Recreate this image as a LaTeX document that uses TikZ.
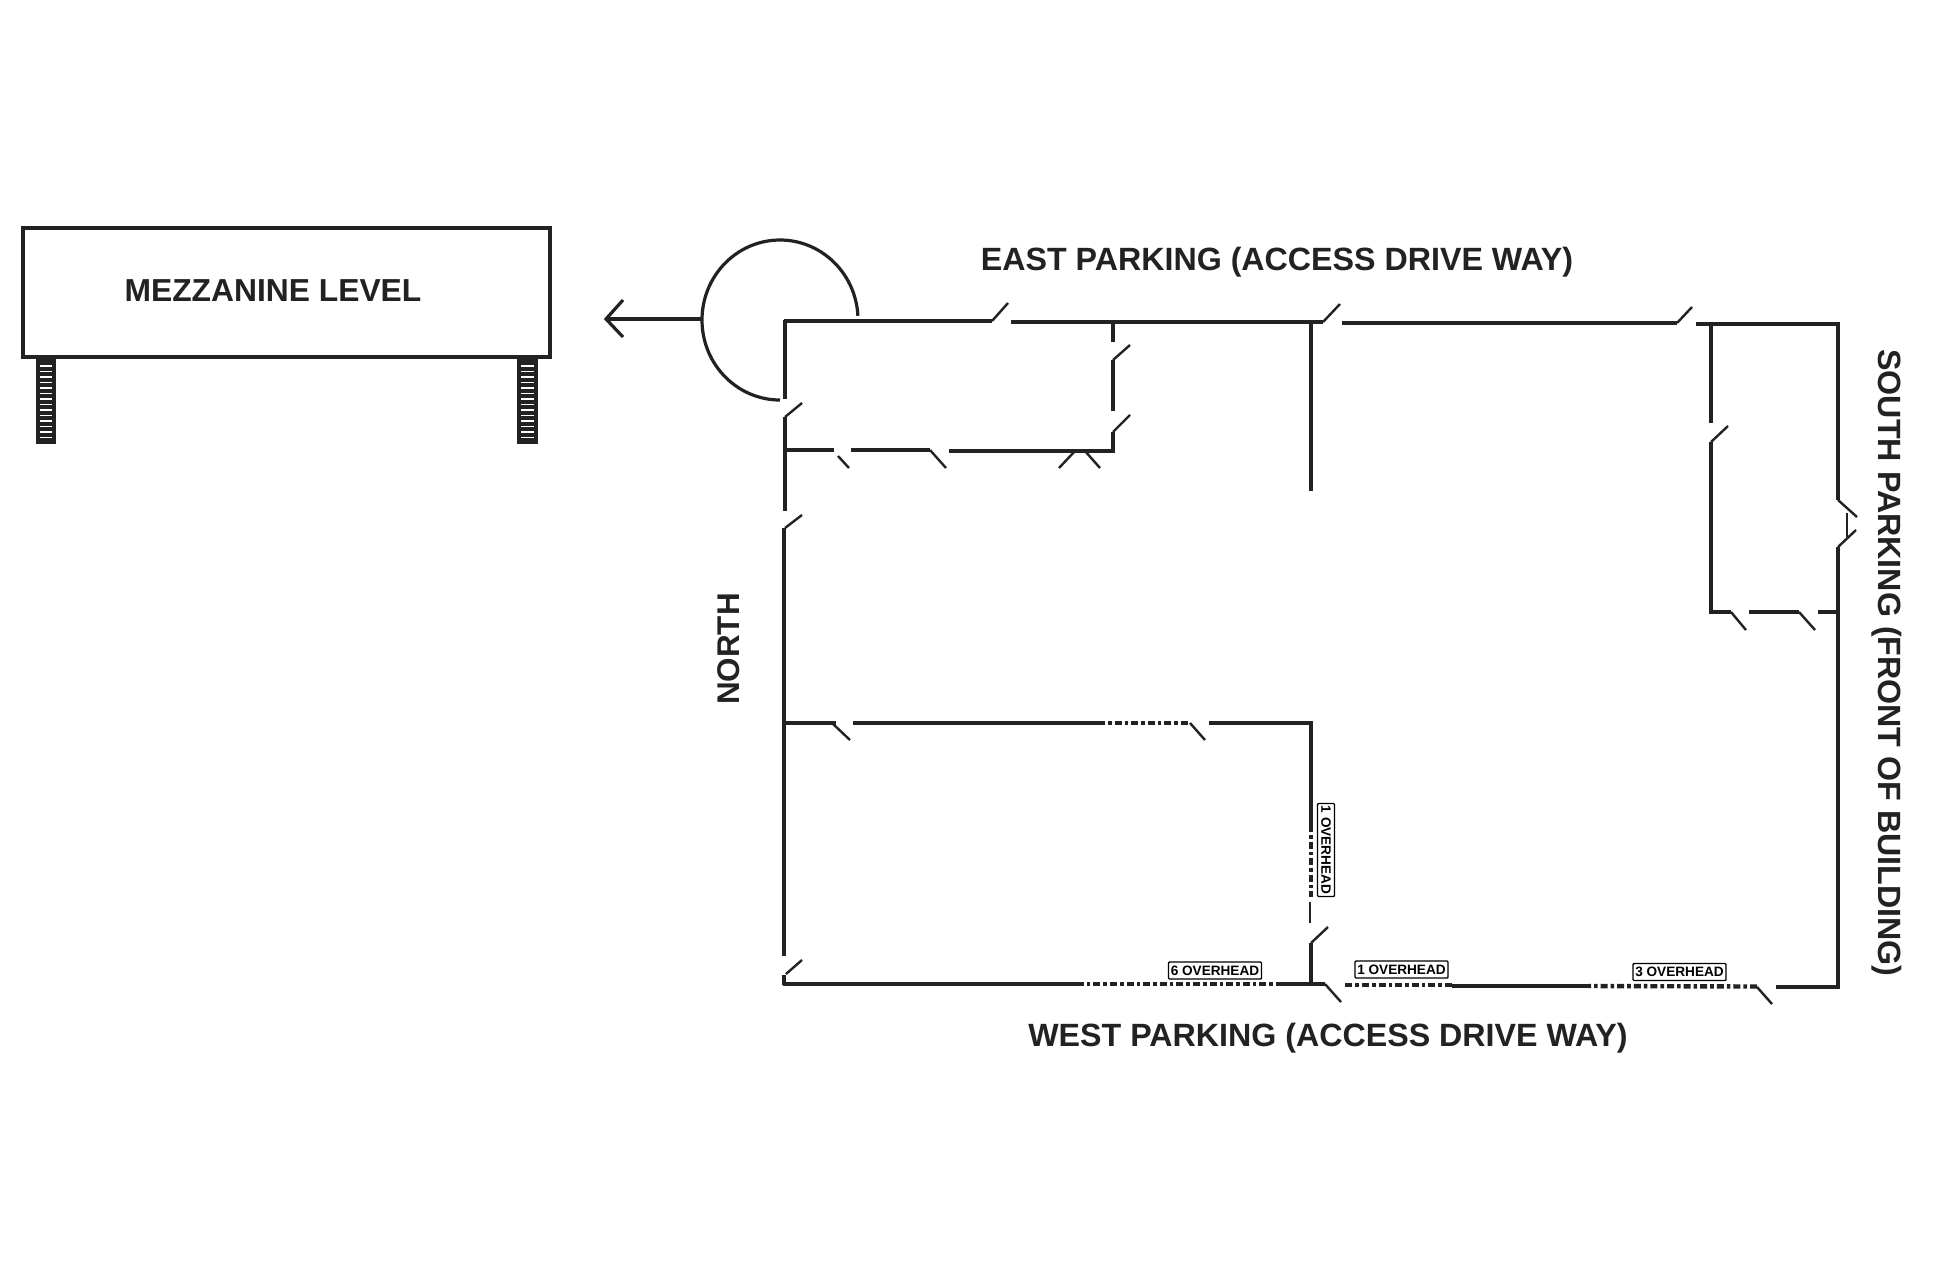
\documentclass[tikz,border=0pt]{standalone}
\usepackage{fontspec}
\setmainfont{Liberation Sans}
\definecolor{ink}{HTML}{222222}
\tikzset{
  wall/.style={draw=ink,line width=2.2pt,line cap=butt,line join=miter},
  dashwall/.style={draw=ink,line width=2.2pt,dash pattern=on 3.5pt off 1.5pt on 1.8pt off 1.5pt},
  leaf/.style={draw=ink,line width=1.2pt},
  thin wall/.style={draw=ink,line width=0.6pt},
  bigtext/.style={text=ink,font=\fontsize{16.1pt}{17pt}\selectfont\bfseries,inner sep=0pt,anchor=center},
  ohtext/.style={text=black,draw=black,line width=0.7pt,rounded corners=0.5pt,font=\fontsize{6.8pt}{7pt}\selectfont\bfseries,inner sep=0pt,anchor=center,minimum height=8.5pt,minimum width=46.5pt}
}
\begin{document}
\begin{tikzpicture}[x=0.5pt,y=-0.5pt]
\useasboundingbox[fill=white] (0,0) rectangle (1954,1270);
% mezzanine
\draw[ink,line width=2pt] (23,228) rectangle (550,357);
\fill[ink] (36,358) rectangle (56,444);
\fill[ink] (517,358) rectangle (538,444);
\foreach \yy in {366,371.5,...,440}{
  \draw[white,line width=0.8pt] (40,\yy) -- (52,\yy);
  \draw[white,line width=0.8pt] (521,\yy) -- (534,\yy);
}
\node[bigtext,font=\fontsize{15.9pt}{17pt}\selectfont\bfseries] (mezz) at (273,291) {MEZZANINE LEVEL};
% circle and arrow
\draw[ink,line width=1.6pt] (780,320) ++(-3:78 and 80) arc[start angle=-3,end angle=-270,x radius=78,y radius=80];
\coordinate (arrowTail) at (703,319);
\coordinate (arrowTip) at (606,319);
\draw[ink,line width=1.6pt] (arrowTail) -- (arrowTip);
\draw[ink,line width=1.6pt,line join=miter] (623,300) -- (arrowTip) -- (623,337);
% top wall
\draw[wall] (783.5,321) -- (992,321);
\draw[wall] (1011,322) -- (1323,322);
\draw[wall] (1342,323) -- (1677,323);
\draw[wall] (1696,324) -- (1840,324);
\draw[leaf] (992,321) -- (1008,303);
\draw[leaf] (1323,322) -- (1340,304);
\draw[leaf] (1677,323) -- (1692,307);
% right wall
\draw[wall] (1838,323) -- (1838,500);
\draw[leaf] (1838,500) -- (1857,517);
\draw[thin wall] (1847,513) -- (1847,537);
\draw[leaf] (1838,547) -- (1856,530);
\draw[wall] (1838,547) -- (1838,988);
% bottom wall
\draw[wall] (1840,987) -- (1776,987);
\draw[leaf] (1757,987) -- (1772,1004);
\draw[dashwall] (1757,986.5) -- (1588,986);
\draw[wall] (1588,986) -- (1452,986);
\draw[dashwall] (1452,985) -- (1345,985);
\draw[leaf] (1325,984) -- (1341,1002);
\draw[wall] (1325,984) -- (1283,984);
\draw[dashwall] (1283,984) -- (1083,984);
\draw[wall] (1083,984) -- (783,984);
% left wall
\draw[wall] (784,985) -- (784,975);
\draw[leaf] (786,974) -- (802,960);
\draw[wall] (784,956) -- (784,528);
\draw[leaf] (785,528) -- (802,515);
\draw[wall] (785,511) -- (785,417);
\draw[leaf] (785,417) -- (802,403);
\draw[wall] (785,399) -- (785,320);
% upper room
\draw[wall] (785,450) -- (834,450);
\draw[leaf] (838,456) -- (849,468);
\draw[wall] (851,450) -- (930,450);
\draw[leaf] (930,450) -- (946,468);
\draw[wall] (949,451) -- (1115,451);
\draw[leaf] (1075,451) -- (1059,468);
\draw[leaf] (1085,451) -- (1100,468);
\draw[wall] (1113,321) -- (1113,342);
\draw[leaf] (1113,360) -- (1130,345);
\draw[wall] (1113,360) -- (1113,411);
\draw[leaf] (1113,432) -- (1130,415);
\draw[wall] (1113,432) -- (1113,452);
% central stub
\draw[wall] (1311,322) -- (1311,491);
% right room
\draw[wall] (1711,323) -- (1711,423);
\draw[leaf] (1711,442) -- (1728,426);
\draw[wall] (1711,442) -- (1711,613);
\draw[wall] (1709,612) -- (1731,612);
\draw[leaf] (1731,612) -- (1746,630);
\draw[wall] (1749,612) -- (1799,612);
\draw[leaf] (1799,612) -- (1815,630);
\draw[wall] (1818,612) -- (1838,612);
% lower room
\draw[wall] (784,723) -- (836,723);
\draw[leaf] (832,723) -- (850,740);
\draw[wall] (853,723) -- (1098,723);
\draw[dashwall] (1098,723) -- (1190,723);
\draw[leaf] (1190,723) -- (1205,740);
\draw[wall] (1209,723) -- (1313,723);
\draw[wall] (1311,722) -- (1311,825);
\draw[dashwall] (1311,825) -- (1311,897);
\draw[thin wall] (1310,902) -- (1310,923);
\draw[leaf] (1311,943) -- (1328,927);
\draw[wall] (1311,943) -- (1311,984);
% labels
\node[ohtext] (oh6) at (1215,970.5) {6 OVERHEAD};
\node[ohtext] (oh1a) at (1401.5,969.5) {1 OVERHEAD};
\node[ohtext] (oh3) at (1679.5,972) {3 OVERHEAD};
\node[ohtext,rotate=-90] (oh1b) at (1326,850) {1 OVERHEAD};
\node[bigtext] (east) at (1277,262) {EAST PARKING (ACCESS DRIVE WAY)};
\node[bigtext] (west) at (1328,1038) {WEST PARKING (ACCESS DRIVE WAY)};
\node[bigtext,rotate=-90] (south) at (1887,663) {SOUTH PARKING (FRONT OF BUILDING)};
\node[bigtext,font=\fontsize{15.7pt}{17pt}\selectfont\bfseries,rotate=90] (north) at (729,649) {NORTH};
\end{tikzpicture}
\end{document}
